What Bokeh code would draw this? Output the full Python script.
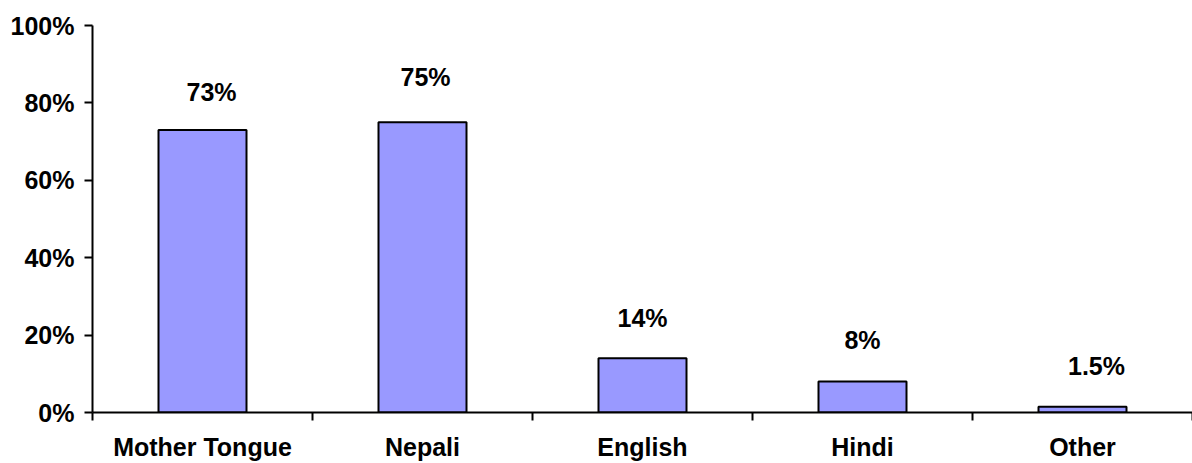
from bokeh.plotting import figure
from bokeh.models import ColumnDataSource, FixedTicker, Range1d
from bokeh.core.properties import value
from bokeh.embed import file_html
from bokeh.resources import INLINE

categories = ["Mother Tongue", "Nepali", "English", "Hindi", "Other"]
values = [73, 75, 14, 8, 1.5]
value_labels = ["73%", "75%", "14%", "8%", "1.5%"]
y_ticks = [0, 20, 40, 60, 80, 100]

# layout of the value labels (data units above baseline, px shift right)
label_pos = [82.7, 86.6, 24.5, 18.8, 12.1]
label_dx = [9, 3, 0, 0, 14]

FONT = "Liberation Sans"
FS = "25px"
LW = 2

x = [i + 0.5 for i in range(len(categories))]
src = ColumnDataSource(dict(x=x, top=values, lab=value_labels, ly=label_pos, dx=label_dx))

p = figure(width=1192, height=463, output_backend="svg", toolbar_location=None,
           x_range=Range1d(0, len(categories)), y_range=Range1d(0, 100),
           min_border_left=92, min_border_right=0, min_border_top=25, min_border_bottom=50)
p.outline_line_color = None
p.grid.visible = False
p.background_fill_color = "white"
p.border_fill_color = "white"

p.vbar(x="x", top="top", width=0.4, bottom=0, source=src,
       fill_color="#9999FF", line_color="black", line_width=LW)

p.text(x="x", y="ly", text="lab", source=src, x_offset="dx",
       text_align="center", text_baseline="middle",
       text_font=value(FONT), text_font_style="bold", text_font_size=FS,
       text_color="black")

# x axis: labels at category centres, tick marks at boundaries
xa = p.xaxis[0]
xa.ticker = FixedTicker(ticks=x, minor_ticks=list(range(len(categories) + 1)))
xa.major_label_overrides = {xi: c for xi, c in zip(x, categories)}
xa.major_tick_line_color = None
xa.minor_tick_out = 8
xa.minor_tick_in = 0
xa.minor_tick_line_color = "black"
xa.minor_tick_line_width = LW
xa.axis_line_width = LW
xa.axis_line_color = "black"
xa.major_label_standoff = 12
xa.major_label_text_font = FONT
xa.major_label_text_font_style = "bold"
xa.major_label_text_font_size = FS
xa.major_label_text_color = "black"

ya = p.yaxis[0]
ya.ticker = FixedTicker(ticks=y_ticks, minor_ticks=[])
ya.major_label_overrides = {t: f"{t}%" for t in y_ticks}
ya.major_tick_out = 8
ya.major_tick_in = 0
ya.major_tick_line_width = LW
ya.minor_tick_line_color = None
ya.axis_line_width = LW
ya.axis_line_color = "black"
ya.major_label_standoff = 10
ya.major_label_text_font = FONT
ya.major_label_text_font_style = "bold"
ya.major_label_text_font_size = FS
ya.major_label_text_color = "black"

open("out.html", "w").write(file_html(p, INLINE))
